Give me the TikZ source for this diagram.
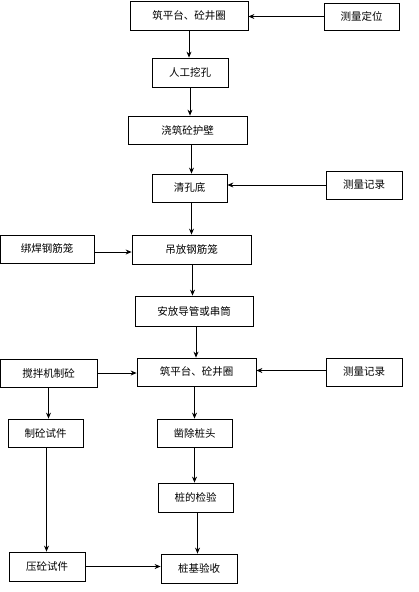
\documentclass[tikz,border=0pt]{standalone}
\usepackage{fontspec}
\newfontfamily\cjk{Noto Sans CJK SC}
\usetikzlibrary{arrows.meta}
\begin{document}
\begin{tikzpicture}[x=1pt,y=1pt,
  box/.style={draw=black, line width=0.8pt, rectangle, inner sep=0pt, font=\cjk\fontsize{10.5}{12}\selectfont},
  arr/.style={draw=black, line width=0.8pt, -{Stealth[length=6pt,width=5pt]}}]
\useasboundingbox (0,0) rectangle (419,-592);
% column boxes
\node[box, minimum width=118pt, minimum height=29pt] (n1) at (189,-15.5) {筑平台、砼井圈};
\node[box, minimum width=76pt, minimum height=29pt] (n2) at (190,-72.5) {人工挖孔};
\node[box, minimum width=119pt, minimum height=28pt] (n3) at (187.5,-130) {浇筑砼护壁};
\node[box, minimum width=75pt, minimum height=28pt] (n4) at (189.5,-188) {清孔底};
\node[box, minimum width=119pt, minimum height=29pt] (n5) at (191.5,-249.5) {吊放钢筋笼};
\node[box, minimum width=118pt, minimum height=30pt] (n6) at (194,-311) {安放导管或串筒};
\node[box, minimum width=119pt, minimum height=28pt] (n7) at (196.5,-372) {筑平台、砼井圈};
\node[box, minimum width=75pt, minimum height=28pt] (n8) at (194.5,-433) {凿除桩头};
\node[box, minimum width=75pt, minimum height=29pt] (n9) at (195.5,-497.5) {桩的检验};
\node[box, minimum width=76pt, minimum height=29pt] (n10) at (199,-568.5) {桩基验收};
% right boxes
\node[box, minimum width=75pt, minimum height=27pt] (r1) at (361.5,-16.5) {测量定位};
\node[box, minimum width=76pt, minimum height=28pt] (r2) at (364,-185) {测量记录};
\node[box, minimum width=76pt, minimum height=28pt] (r3) at (364,-372) {测量记录};
% left boxes
\node[box, minimum width=94pt, minimum height=28pt] (l1) at (47,-249) {绑焊钢筋笼};
\node[box, minimum width=97pt, minimum height=28pt] (l2) at (48.5,-373) {搅拌机制砼};
\node[box, minimum width=75pt, minimum height=28pt] (l3) at (45.5,-433) {制砼试件};
\node[box, minimum width=76pt, minimum height=29pt] (l4) at (47,-566.5) {压砼试件};
% vertical arrows
\draw[arr] (n1.south) -- (n1.south |- n2.north);
\draw[arr] (n2.south) -- (n2.south |- n3.north);
\draw[arr] ([xshift=4pt]n3.south) -- ([xshift=4pt]n3.south |- n4.north);
\draw[arr] ([xshift=2pt]n4.south) -- ([xshift=2pt]n4.south |- n5.north);
\draw[arr] ([xshift=1pt]n5.south) -- ([xshift=1pt]n5.south |- n6.north);
\draw[arr] ([xshift=2pt]n6.south) -- ([xshift=2pt]n6.south |- n7.north);
\draw[arr] (n8.north |- n7.south) -- (n8.north);
\draw[arr] (n8.south) -- (n8.south |- n9.north);
\draw[arr] ([xshift=2pt]n9.south) -- ([xshift=2pt]n9.south |- n10.north);
\draw[arr] (l2.south) -- (l2.south |- l3.north);
\draw[arr] ([xshift=1pt]l3.south) -- ([xshift=1pt]l3.south |- l4.north);
% horizontal arrows
\draw[arr] (r1.west) -- (r1.west -| n1.east);
\draw[arr] (r2.west) -- (r2.west -| n4.east);
\draw[arr] ([yshift=-3pt]l1.east) -- ([yshift=-3pt]l1.east -| n5.west);
\draw[arr] (l2.east) -- (l2.east -| n7.west);
\draw[arr] ([yshift=1.5pt]r3.west) -- ([yshift=1.5pt]r3.west -| n7.east);
\draw[arr] (l4.east) -- (l4.east -| n10.west);
\end{tikzpicture}
\end{document}
